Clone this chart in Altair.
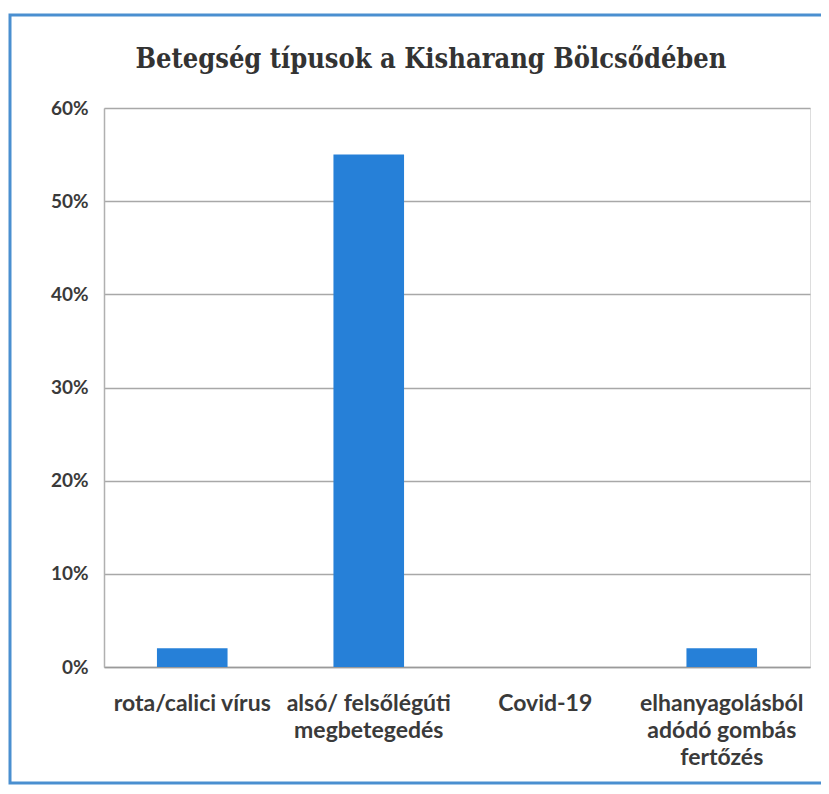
import altair as alt
import pandas as pd

title_text = "Betegség típusok a Kisharang Bölcsődében"
categories = ["rota/calici vírus", "alsó/ felsőlégúti|megbetegedés", "Covid-19", "elhanyagolásból|adódó gombás|fertőzés"]
values = [0.02, 0.55, 0.0, 0.02]

df = pd.DataFrame({"cat": categories, "val": values})

W, H = 706, 559
PL, PT, PR, PB = 96, 100, 11, 119

bars = alt.Chart(df).mark_bar(color="#2680d8").encode(
    x=alt.X("cat:N", sort=categories, title=None,
            scale=alt.Scale(paddingInner=0.6, paddingOuter=0.3),
            axis=alt.Axis(labelExpr="split(datum.label, '|')", labelAngle=0,
                          labelFont="Lato", labelFontWeight="bold", labelFontSize=23,
                          labelColor="#3a3a3a", labelPadding=25, ticks=False,
                          domainColor="#9a9a9a", domainWidth=1.5, labelLineHeight=27)),
    y=alt.Y("val:Q", title=None,
            scale=alt.Scale(domain=[0, 0.6]),
            axis=alt.Axis(format=".0%", values=[0, 0.1, 0.2, 0.3, 0.4, 0.5, 0.6],
                          labelFont="Lato", labelFontWeight="bold", labelFontSize=19,
                          labelColor="#3a3a3a", labelPadding=16, ticks=False,
                          domain=True, domainColor="#b0b0b0", domainWidth=1.5,
                          gridColor="#a8a8a8", gridWidth=1.5)),
)

frame = alt.Chart(pd.DataFrame({"a": [0]})).mark_rect(
    fill=None, stroke="#4a8fd0", strokeWidth=3, clip=False
).encode(
    x=alt.value(-PL + 2), x2=alt.value(W + 40),
    y=alt.value(-PT + 7), y2=alt.value(H + 116),
)

title = alt.Chart(pd.DataFrame({"t": [title_text]})).mark_text(
    font="DejaVu Serif Condensed", fontSize=27, fontWeight="bold",
    color="#333333", align="center", baseline="alphabetic", clip=False
).encode(
    text="t:N", x=alt.value(327), y=alt.value(-40),
)

chart = alt.layer(frame, bars, title).properties(
    width=W, height=H,
    autosize=alt.AutoSizeParams(type="none"),
    padding={"left": PL, "top": PT, "right": PR, "bottom": PB},
).configure_view(stroke=None).configure(background="white")

chart.save("out.html", embed_options={"renderer": "svg", "actions": False})
